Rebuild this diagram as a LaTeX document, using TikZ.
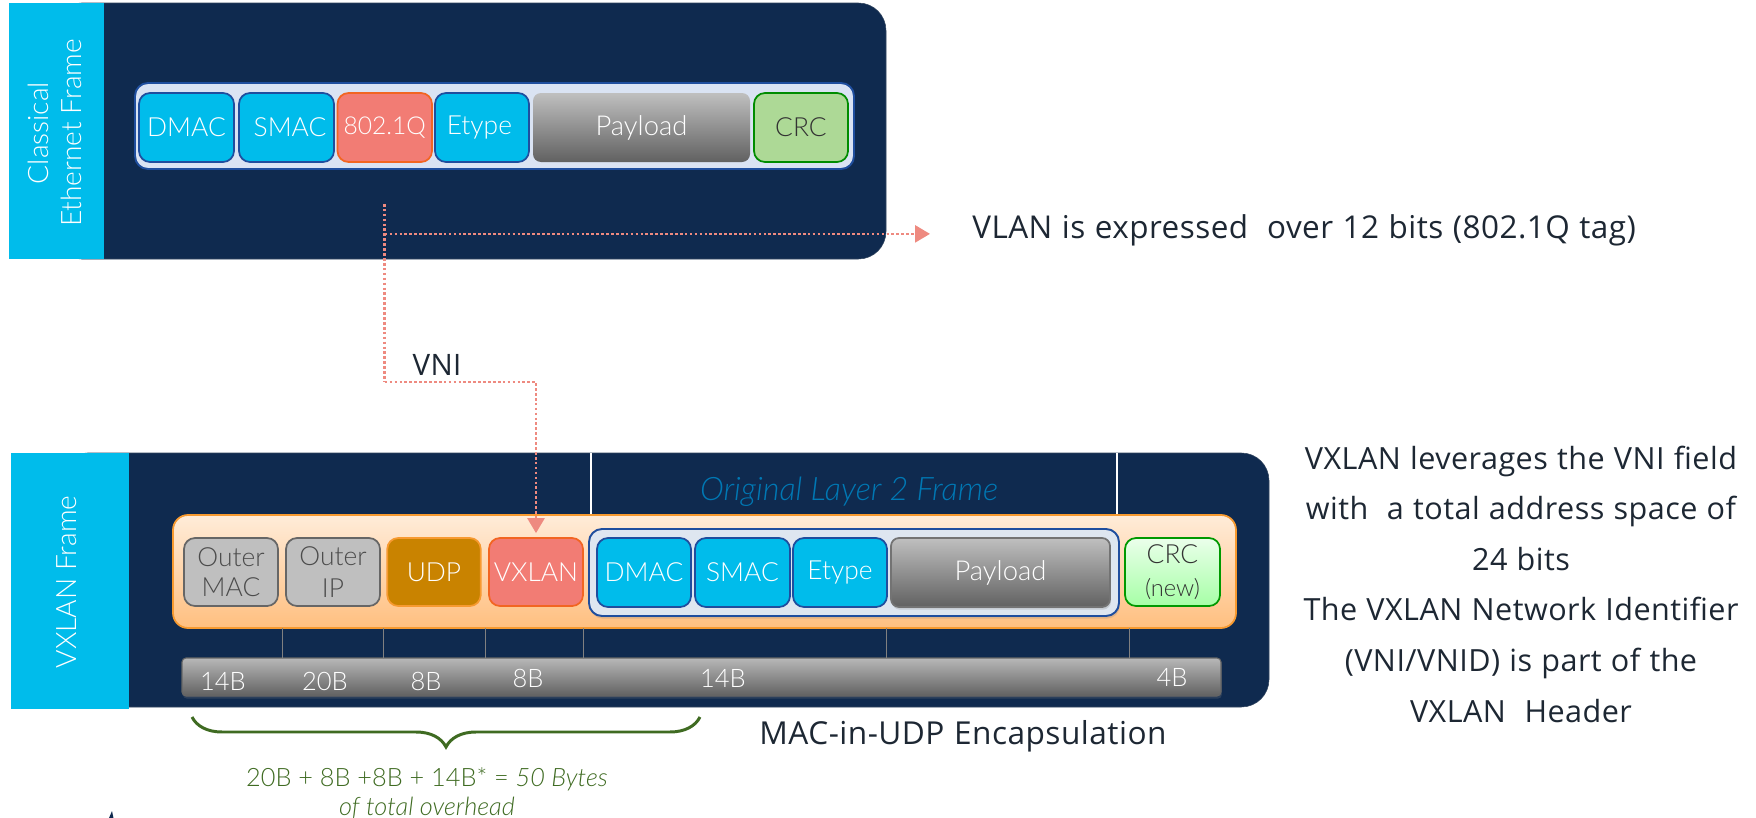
\documentclass[tikz,border=0pt]{standalone}
\usepackage{fontspec}
\setmainfont{Lato}[UprightFont=* Light,ItalicFont=* Light Italic]
\newfontfamily\notefont{Open Sans}[LetterSpace=1.5,WordSpace=1.1]
\usepackage{xcolor}
\usetikzlibrary{arrows.meta}
\usetikzlibrary{decorations.pathreplacing}
\usetikzlibrary{shadows}

\definecolor{framenavy}{HTML}{0F2A4F}
\definecolor{framecyan}{HTML}{00BCEB}
\definecolor{fieldedge}{HTML}{1F4E9E}
\definecolor{grouppale}{HTML}{DAE3F3}
\definecolor{innerpale}{HTML}{DEE6F0}
\definecolor{crcgreen}{HTML}{ADD996}
\definecolor{vlansalmon}{HTML}{F27C74}
\definecolor{vlanedge}{HTML}{F26522}
\definecolor{linkdots}{HTML}{EE8A80}
\definecolor{udpamber}{HTML}{C98300}
\definecolor{orangeedge}{HTML}{F79A30}
\definecolor{bracegreen}{HTML}{3F6B22}
\definecolor{layertwoblue}{HTML}{0078B4}
\definecolor{noteink}{HTML}{1D2733}

\tikzset{
  wh/.style 2 args={minimum width=#1*0.02cm, minimum height=#2*0.02cm},
  boxtext/.style={font=\fontsize{15}{17}\selectfont, align=center, inner sep=0pt},
  notetext/.style={font=\notefont\fontsize{#1}{28.8}\selectfont, text=noteink, inner sep=0pt},
  notetext/.default=17.4,
  sidetext/.style={font=\fontsize{16}{19}\selectfont, text=white, align=center, rotate=90, inner sep=0pt},
  framebox/.style={fill=framenavy, draw=framenavy!70!gray, line width=.3pt, rounded corners=.55cm, inner sep=0pt},
  sidebox/.style={fill=framecyan, inner sep=0pt},
  groupbox/.style={fill=#1, draw=fieldedge, line width=1.1pt, rounded corners=.26cm, inner sep=0pt},
  fieldbox/.style={boxtext, fill=framecyan, draw=fieldedge, line width=1pt, rounded corners=.22cm, text=white},
  graybox/.style={boxtext, fill=black!25, draw=black!60, line width=1pt, rounded corners=.22cm, text=black!70},
  tagbox/.style={boxtext, fill=vlansalmon, draw=vlanedge, line width=1pt, rounded corners=.22cm, text=white},
  udpbox/.style={boxtext, fill=udpamber, draw=orangeedge, line width=1pt, rounded corners=.22cm, text=white},
  payloadbox/.style={boxtext, top color=black!25, bottom color=black!62, rounded corners=.16cm, text=white},
  barbox/.style={boxtext, top color=black!28, bottom color=black!62, draw=black!60, line width=.6pt, rounded corners=.08cm},
  softshadow/.style={drop shadow={opacity=.25, shadow xshift=.5pt, shadow yshift=-1.5pt}},
  vlink/.style={draw=linkdots, line width=1.5pt, dash pattern=on 1.5pt off 1.3pt},
  tickline/.style={draw=black!50, line width=.5pt},
  sizelabel/.style={font=\fontsize{14.5}{17}\selectfont, text=white, inner sep=0pt},
}

\begin{document}
\begin{tikzpicture}[x=0.02cm, y=-0.02cm]
  \useasboundingbox (0,0) rectangle (1756,818);

  \path (470,131) node (classicframe) [framebox, wh={832}{256}] {};
  \path (56.5,131) node (classicside) [sidebox, wh={95}{256}] {};
  \path (55,133) node (classictitle) [sidetext] {Classical\\Ethernet Frame};

  \path (494.5,126) node (classicgroup) [groupbox=grouppale, wh={719}{86}] {};
  \path (186.5,127.5) node (cdmac) [fieldbox, wh={95}{69}] {DMAC};
  \path (286.5,127.5) node (csmac) [fieldbox, wh={95}{69}] {\hspace*{4pt}SMAC};
  \path (384.75,127.5) node (ctag) [tagbox, wh={94.5}{69}] {\fontsize{14}{17}\selectfont 802.1Q};
  \path (482,127.5) node (cetype) [fieldbox, wh={94}{69}] {Etype\hspace*{3pt}};
  \path (641.5,127.5) node (cpayload) [payloadbox, wh={217}{69}] {\fontsize{15.6}{17}\selectfont\raisebox{-3pt}{Payload}};
  \path (801,127.5) node (ccrc) [boxtext, fill=crcgreen, draw=green!55!black, line width=1pt, rounded corners=.22cm, text=black!80, wh={94}{69}] {CRC};

  \path (664.5,580) node (vxframe) [framebox, wh={1209}{254}] {};
  \path (70,581) node (vxside) [sidebox, wh={118}{256}] {};
  \path (67,582) node (vxtitle) [sidetext] {VXLAN Frame};

  \draw[white, line width=.6pt] (591,453) -- (591,516);
  \draw[white, line width=.6pt] (1117,453) -- (1117,516);
  \path (849,492) node (layertwo) [font=\fontsize{18.4}{20}\selectfont\itshape, text=layertwoblue, inner sep=0pt] {Original Layer 2 Frame};

  \path (704.5,571.5) node (outerbox) [top color=orange!15!white, bottom color=orange!50!white, draw=orangeedge, line width=1pt, rounded corners=.3cm, wh={1063}{113}] {};
  \path (854,572.5) node (innerbox) [groupbox=innerpale, softshadow, wh={530}{87}] {};
  \path (231,572) node (vxomac) [graybox, wh={94}{68}] {Outer\\MAC};
  \path (333,572) node (vxoip) [graybox, wh={94}{68}] {Outer\\[1pt]IP};
  \path (434,572) node (vxudp) [udpbox, wh={93.5}{68}] {\raisebox{-1.5pt}{UDP}};
  \path (536,572) node (vxvxlan) [tagbox, wh={94}{68}] {VXLAN};
  \path (644,572.5) node (vxdmac) [fieldbox, wh={94}{69}] {DMAC};
  \path (742.5,572.5) node (vxsmac) [fieldbox, wh={95}{69}] {SMAC};
  \path (840,572.5) node (vxetype) [fieldbox, wh={94}{69}] {Etype};
  \path (1000.5,572.5) node (vxpayload) [payloadbox, draw=black!55, line width=1pt, softshadow, wh={219}{69}] {\fontsize{15.6}{17}\selectfont\raisebox{-3pt}{Payload}};
  \path (1172.5,572) node (vxcrc) [boxtext, top color=green!8!white, bottom color=green!35!white, draw=green!60!black, line width=1pt, rounded corners=.22cm, text=black!80, wh={95}{68}] {CRC\\[2pt]{\fontsize{13.5}{14}\selectfont (new)}};

  \path (701.5,677) node (sizebar) [barbox, softshadow, wh={1039}{38}] {};
  \foreach \tickx in {282,383,485,583.5,886,1129}
    \draw[tickline] (\tickx,628) -- (\tickx,658);
  \path (223,681) node (sizeomac) [sizelabel] {14B};
  \path (325,681) node (sizeoip) [sizelabel] {20B};
  \path (426,681) node (sizeudp) [sizelabel] {8B};
  \path (528,678) node (sizevx) [sizelabel] {8B};
  \path (723,678) node (sizeinner) [sizelabel] {14B};
  \path (1172,677) node (sizecrc) [sizelabel] {4B};

  \path (972,230) node (vlannote) [notetext=17.9, anchor=west] {VLAN is expressed\ \ over 12 bits (802.1Q tag)};
  \path (1521,584) node (vninote) [notetext, align=center] {VXLAN leverages the VNI field\\with\ \ a total address space of\\24 bits\\The VXLAN Network Identifier\\(VNI/VNID) is part of the\\VXLAN\ \ Header};
  \path (963,736) node (macnote) [notetext=18] {MAC-in-UDP Encapsulation};
  \path (437,365) node (vnilabel) [notetext=16.8] {VNI};

  \path (ctag.south) +(0,41) coordinate (tagdrop);
  \path (tagdrop) +(0,30) coordinate (tagjoin);
  \path (tagdrop) +(0,178) coordinate (vnibend);
  \draw[vlink] (tagdrop) -- (vnibend);
  \draw[vlink, -{Triangle[length=.3cm, width=.34cm, fill=linkdots]}, shorten >=.84cm] (tagjoin) -- (vlannote.west |- tagjoin);
  \draw[vlink, -{Triangle[length=.3cm, width=.34cm, fill=linkdots]}, shorten >=.08cm] (vnibend) -| (vxvxlan.north);

  \draw[bracegreen, line width=1.7pt, decorate, decoration={brace, amplitude=.6cm}] (700,717) -- (192,717);
  \path (427,793.5) node (overhead) [font=\fontsize{14.4}{16.4}\selectfont, text=bracegreen, align=center, inner sep=0pt] {20B + 8B +8B + 14B* = \textit{50 Bytes}\\\textit{of total overhead}};

  \fill[framenavy] (109,818) -- (112,811) -- (113.5,818) -- cycle;
\end{tikzpicture}
\end{document}
